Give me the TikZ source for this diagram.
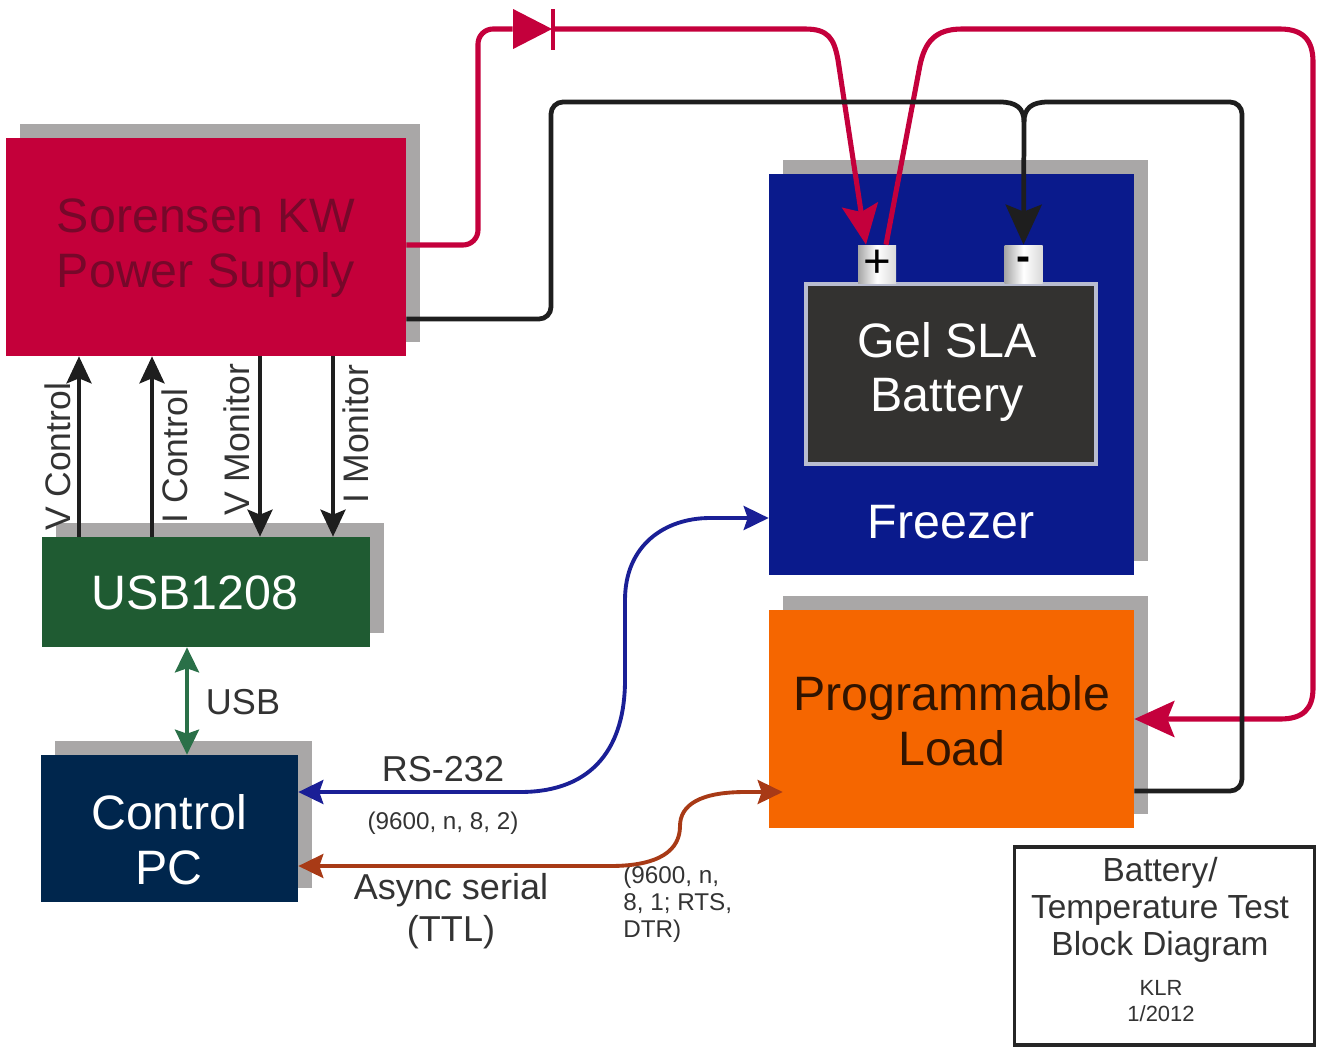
\documentclass[tikz,border=0pt]{standalone}
\usepackage{fontspec}
\setmainfont{Liberation Sans}
\usetikzlibrary{arrows.meta,shadows,shapes.geometric}
\definecolor{psured}{HTML}{C4003A}
\definecolor{psutext}{HTML}{76082A}
\definecolor{usbgreen}{HTML}{1F5B32}
\definecolor{pcblue}{HTML}{00264D}
\definecolor{frzblue}{HTML}{0A1A8C}
\definecolor{loadorange}{HTML}{F56600}
\definecolor{shadowgray}{HTML}{A9A7A7}
\definecolor{batgray}{HTML}{333230}
\definecolor{batedge}{HTML}{B9BDD0}
\definecolor{wirered}{HTML}{C4003C}
\definecolor{wireblack}{HTML}{1E1E1E}
\definecolor{wireblue}{HTML}{1A1F96}
\definecolor{wirebrown}{HTML}{A83A16}
\definecolor{wiregreen}{HTML}{2A7048}
\definecolor{labelgray}{HTML}{333333}

\begin{document}
\begin{tikzpicture}
		[x=0.02cm,y=-0.02cm,
		block/.style ={rectangle, inner sep=0pt, general shadow={fill=shadowgray, shadow xshift=0.28cm, shadow yshift=0.28cm}},
		boxtext/.style ={align=center, inner sep=0pt, font=\fontsize{27.5}{31.3}\selectfont},
		siglabel/.style ={rotate=90, inner sep=0pt, text=labelgray, font=\fontsize{20.2}{23}\selectfont},
		linklabel/.style ={align=center, inner sep=0pt, text=labelgray, font=\fontsize{20.5}{24}\selectfont},
		smalllabel/.style ={align=left, inner sep=0pt, text=labelgray, font=\fontsize{13.8}{15.4}\selectfont},
		terminal/.style ={rectangle, inner sep=0pt, minimum width=0.76cm, minimum height=0.76cm, left color=black!35, right color=black!15, middle color=white},
		power/.style ={draw=wirered, line width=2.9pt, rounded corners=0.3cm},
		ground/.style ={draw=wireblack, line width=2.7pt, rounded corners=0.24cm},
		bigtip/.style ={-{Stealth[length=0.8cm,width=0.72cm,inset=0.14cm]}},
		sigline/.style ={draw=wireblack, line width=2.2pt, -{Stealth[length=0.54cm,width=0.5cm,inset=0.1cm]}},
		serial/.style ={line width=2.2pt, {Stealth[length=0.5cm,width=0.48cm,inset=0.08cm]}-{Stealth[length=0.5cm,width=0.48cm,inset=0.08cm]}},
		]

		\useasboundingbox (0,0) rectangle (1317,1052);

		% boxes
		\draw (206,247) node[block, fill=psured, minimum width=8cm, minimum height=4.36cm] (psu) {};
		\draw (206,592) node[block, fill=usbgreen, minimum width=6.56cm, minimum height=2.2cm] (usb) {};
		\draw (169.5,828.5) node[block, fill=pcblue, minimum width=5.14cm, minimum height=2.94cm] (pc) {};
		\draw (951.5,374.5) node[block, fill=frzblue, minimum width=7.3cm, minimum height=8.02cm] (frz) {};
		\draw (951.5,719) node[block, fill=loadorange, minimum width=7.3cm, minimum height=4.36cm] (load) {};
		\draw (951,374) node[rectangle, inner sep=0pt, draw=batedge, line width=2pt, fill=batgray, minimum width=5.8cm, minimum height=3.6cm] (bat) {};
		\draw (877,264) node[terminal, font=\fontsize{27}{27}\selectfont] (plus) {+};
		\draw (1023.5,264) node[terminal, font=\fontsize{24}{24}\selectfont\bfseries] (minus) {-};
		\draw (1164.5,946) node[rectangle, inner sep=0pt, draw=black!85, line width=2pt, fill=white, minimum width=6cm, minimum height=3.96cm] (title) {};

		% box texts
		\draw (206,248) node[boxtext, text=psutext] (psuT) {Sorensen KW\\Power Supply};
		\draw (195,593) node[boxtext, text=white] (usbT) {USB1208};
		\draw (169,840) node[boxtext, text=white] (pcT) {Control\\PC};
		\draw (947,372) node[boxtext, text=white] (batT) {Gel SLA\\Battery};
		\draw (951,522) node[boxtext, text=white] (frzT) {Freezer};
		\draw (952,721) node[boxtext, text=black!80!loadorange] (loadT) {Programmable\\Load};

		% title block
		\draw (1160,910) node[align=center, inner sep=0pt, text=labelgray, font=\fontsize{19}{21}\selectfont] (titleT) {Battery/\\Temperature Test\\Block Diagram};
		\draw (1161,1001) node[align=center, inner sep=0pt, text=labelgray, font=\fontsize{12.5}{14.5}\selectfont] (titleK) {KLR\\1/2012};

		% signal labels
		\draw (58,457) node[siglabel] (vcL) {V Control};
		\draw (175,456) node[siglabel] (icL) {I Control};
		\draw (237,440) node[siglabel] (vmL) {V Monitor};
		\draw (356,434) node[siglabel] (imL) {I Monitor};
		\draw (243,702) node[linklabel] (usbL) {USB};
		\draw (443,769) node[linklabel] (rsL) {RS-232};
		\draw (451,911) node[linklabel] (asyL) {Async serial\\(TTL)};
		\draw (443,823) node[smalllabel] (rsS) {(9600, n, 8, 2)};
		\draw (623,904) node[smalllabel, anchor=west] (asyS) {(9600, n,\\8, 1; RTS,\\DTR)};

		% diode
		\draw (553,29) node[isosceles triangle, isosceles triangle stretches, shape border rotate=0, anchor=apex, inner sep=0pt, fill=wirered, minimum width=0.8cm, minimum height=0.78cm] (diode) {};
		\draw (552.5,29) node[rectangle, inner sep=0pt, fill=wirered, minimum width=0.08cm, minimum height=0.82cm] (bar) {};

		% signal lines
		\foreach \px in {79,152}
			\draw[sigline] (\px,0 |- usb.north) -- (\px,0 |- psu.south);
		\foreach \px in {260,333}
			\draw[sigline] (\px,0 |- psu.south) -- (\px,0 |- usb.north);

		% data links
		\draw[serial, draw=wiregreen, {Stealth[length=0.5cm,width=0.48cm,inset=0.08cm,fill=wiregreen]}-{Stealth[length=0.5cm,width=0.48cm,inset=0.08cm,fill=wiregreen]}] (187,0 |- usb.south) -- (187,0 |- pc.north);
		\draw[serial, draw=wireblue]
			([yshift=0.73cm]pc.east) -- (520,792) .. controls (595,792) and (625,745) .. (625,680)
			-- (625,600) .. controls (625,545) and (665,518) .. (710,518) -- (frz.west |- 0,518);
		\draw[serial, draw=wirebrown]
			([yshift=-0.75cm]pc.east) -- (610,866) .. controls (660,866) and (680,850) .. (680,826)
			.. controls (680,805) and (700,792) .. (745,792) -- ([xshift=0.28cm,yshift=-1.46cm]load.west);

		% power wires
		\draw[power] ([yshift=0.04cm]psu.east) -- (478,245) -- (478,29) -- (diode.west);
		\draw[power, rounded corners=0pt, bigtip] (bar.east) -- (805,29) .. controls (828,29) and (834,38) .. (838,60) -- ([xshift=-0.22cm]plus.north);
		\draw[power, rounded corners=0pt, bigtip] ([xshift=0.18cm]plus.north) -- (920,65) .. controls (925,42) and (935,29) .. (962,29)
			-- (1280,29) .. controls (1303,29) and (1313,40) .. (1313,62) -- (1313,688) .. controls (1313,709) and (1303,719) .. (1280,719) -- (load.east);

		\coordinate (jct) at (1024,122);
		\draw[ground] ([yshift=-1.44cm]psu.east) -- (551,319) -- (551,102) -- (1000,102);
		\draw[ground, rounded corners=0pt] (1000,102) .. controls (1016,102) and (1024,108) .. (jct);
		\draw[ground] ([yshift=-1.44cm]load.east) -- (1242,791) -- (1242,102) -- (1048,102);
		\draw[ground, rounded corners=0pt] (1048,102) .. controls (1032,102) and (1024,108) .. (jct);
		\draw[ground, rounded corners=0pt, bigtip] (jct) -- (minus.north);

	\end{tikzpicture}
\end{document}
